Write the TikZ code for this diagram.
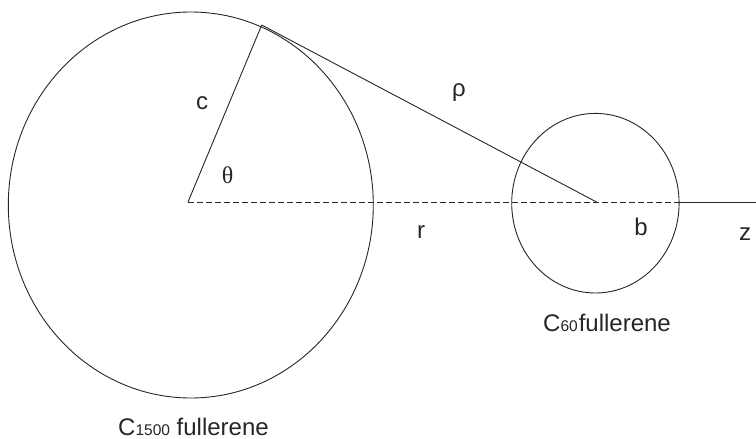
\documentclass[tikz,border=0pt]{standalone}
\usepackage{fontspec}
\setmainfont{Liberation Sans}
\newfontfamily\serifgreek{Liberation Serif}
\usetikzlibrary{shapes.geometric}
\tikzset{
  ln/.style={line width=0.9pt, black!85},
  dsh/.style={ln, dash pattern=on 6pt off 3pt},
  lbl/.style={font=\fontsize{24pt}{26pt}\selectfont, inner sep=0pt, text=black!85},
  sub/.style={},
}
\newcommand{\subsz}{\fontsize{15.5pt}{16pt}\selectfont}
\begin{document}
\begin{tikzpicture}[x=1pt,y=-1pt]
\useasboundingbox (0,0) rectangle (756,439);
\node[ellipse, draw, ln, minimum width=365pt, minimum height=386pt, inner sep=0pt, outer sep=0pt] (big) at (190.8,205) {};
\node[ellipse, draw, ln, minimum width=167.4pt, minimum height=179.6pt, inner sep=0pt, outer sep=0pt] (small) at (595.4,203.2) {};
\coordinate (bc) at (188,202);
\coordinate (sc) at (596.5,202);
\coordinate (t) at (261.7,25);
\coordinate (se) at (679,202);
\coordinate (dend) at (714,202);
\coordinate (zend) at (756,202);
\draw[ln] (bc) -- (t);
\draw[ln] (t) -- (sc);
\draw[ln] (se) -- (zend);
\draw[dsh] (bc) -- (dend);
\node[lbl] (lc) at (202,103) {c};
\node[lbl] (lth) at (227.5,175.5) {\serifgreek θ};
\node[lbl] (lrho) at (459,92.5) {ρ};
\node[lbl] (lr) at (421,232.5) {r};
\node[lbl] (lb) at (641,226.5) {b};
\node[lbl] (lz) at (745,234.5) {z};
\node[lbl, anchor=base west] (l60) at (543,331) {C{\subsz 60}\kern1ptfullerene};
\node[lbl, anchor=base west] (l1500) at (118,435) {C{\subsz 1500} fullerene};
\end{tikzpicture}
\end{document}
